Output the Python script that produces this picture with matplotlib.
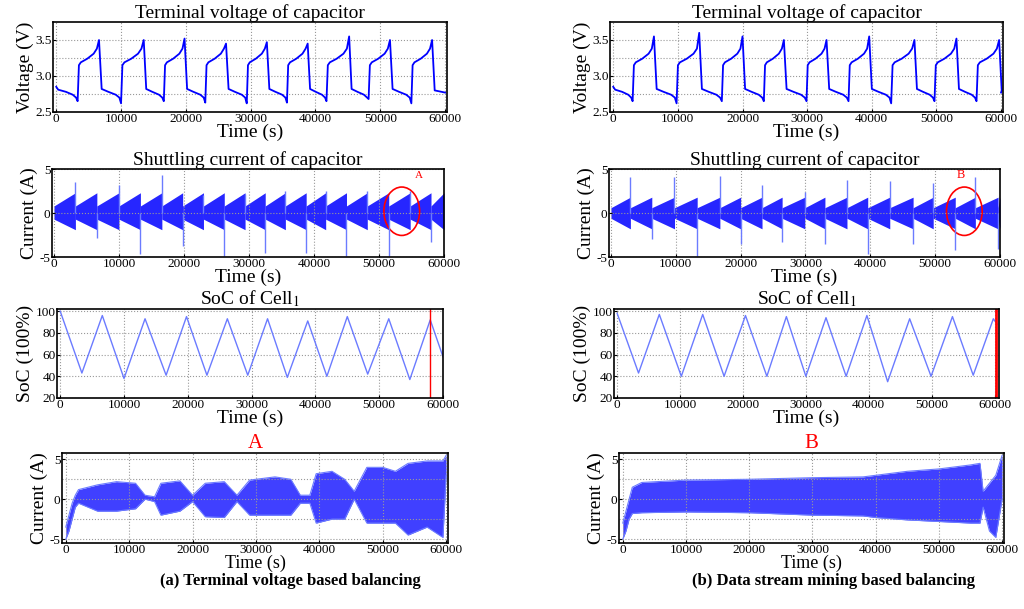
import matplotlib.pyplot as plt
import matplotlib.patches as mpatches

plt.rcParams['font.family'] = 'Liberation Serif'
plt.rcParams['mathtext.fontset'] = 'stix'

# ---- data ----
# terminal voltage: trough/peak times (s) and values (V)
va_trough_t = [3300, 10000, 16600, 23000, 29400, 35600, 41700, 48200, 54800]
va_trough_v = [2.65, 2.62, 2.65, 2.63, 2.62, 2.63, 2.65, 2.68, 2.62]
va_peak_t = [6600, 13500, 19800, 26200, 32500, 38800, 45200, 51500, 58000]
va_peak_v = [3.50, 3.50, 3.52, 3.45, 3.47, 3.45, 3.55, 3.50, 3.50]
vb_trough_t = [3000, 9800, 16800, 23300, 29900, 36400, 43000, 49700, 56200]
vb_trough_v = [2.65, 2.62, 2.65, 2.65, 2.65, 2.65, 2.62, 2.65, 2.65]
vb_peak_t = [6300, 13300, 20000, 26400, 33000, 39600, 46600, 53100, 59700]
vb_peak_v = [3.55, 3.60, 3.55, 3.50, 3.50, 3.55, 3.50, 3.52, 3.50]
v_start = 2.85
# shape of a charge half-cycle: (fraction of segment, voltage)
charge_shape = [(0.06, 3.15), (0.15, 3.19), (0.45, 3.24), (0.75, 3.31), (0.9, 3.38)]
# shape of a discharge half-cycle: (fraction of segment, voltage)
disch_shape = [(0.08, 2.82), (0.4, 2.78), (0.75, 2.74), (0.92, 2.70)]

# shuttling current: spikes at switching instants
ia_spike_t = [3300, 6600, 10000, 13300, 16600, 19800, 23000, 26200, 29400,
              32500, 35600, 38800, 41800, 45000, 48200, 51500, 54800, 58000]
ia_spike_v = [3.5, -2.8, 3.2, -4.7, 4.3, -3.8, 2.0, -4.9, 2.2,
              -4.5, 2.5, -4.5, 2.5, -4.9, 2.5, -4.9, 2.5, -3.3]
ib_spike_t = [3000, 6300, 9800, 13300, 16800, 20000, 23300, 26400, 29900,
              33000, 36400, 39600, 43000, 46600, 49700, 53100, 56200, 59700]
ib_spike_v = [4.1, -3.0, 4.1, -4.9, 4.2, -3.5, 3.2, -3.3, 2.4,
              -3.5, 3.8, -4.7, 3.6, -3.5, 3.4, -4.2, 4.1, -4.1]
# envelope (lower, upper) at start / end of each segment
ia_env_start = [0.7, 0.8]
ia_env_end = [1.9, 2.3]
ib_env_start = [0.6, 0.6]
ib_env_end = [1.8, 1.8]

# SoC of cell 1
soc_a_t = [0, 3400, 6600, 10000, 13300, 16600, 19800, 23000, 26200, 29400,
           32500, 35600, 38800, 41800, 45000, 48200, 51500, 54800, 58000, 60000]
soc_a_v = [100, 43, 96, 38, 93, 41, 95, 41, 93, 41,
           93, 39, 91, 40, 95, 42, 93, 37, 92, 58]
soc_b_t = [0, 3400, 6700, 10200, 13600, 17000, 20400, 23800, 26900, 30000,
           33200, 36400, 39700, 43000, 46500, 49900, 53300, 56600, 59800, 60400]
soc_b_v = [98, 43, 97, 40, 97, 40, 96, 40, 95, 40,
           94, 40, 96, 35, 93, 40, 95, 41, 93, 88]
soc_a_mark = 58000
soc_b_mark = 60300

# zoomed current A/B envelopes
za_t = [0, 500, 1000, 1500, 2000, 5000, 8000, 11000, 12500, 14000, 15000, 18000,
        20000, 22000, 25000, 27000, 29000, 33000, 35500, 37000, 38500, 39500,
        42000, 44000, 45500, 47500, 50000, 52000, 54000, 57000, 59500, 60000]
za_lo = [-5, -4, -2.5, -1, -0.5, -1.5, -1.5, -1.2, 0, -0.3, -2, -1.5,
         -0.3, -2.2, -2.3, -0.3, -2, -2, -2, -0.5, -0.5, -3,
         -2.5, -2.5, 0, -3, -3, -3, -4.5, -3.5, -4.8, 3]
za_hi = [-3.5, -2, -0.5, 0.5, 1.2, 1.8, 2.2, 2.0, 0.5, 0.3, 2, 2.3,
         0.5, 2, 2.2, 0.5, 2.4, 2.8, 2.5, 0.5, 0.5, 3.2,
         3.5, 2.5, 1, 4, 4, 3.5, 4.5, 4.8, 4.8, 5.5]
zb_t = [0, 500, 1000, 1500, 3000, 10000, 20000, 30000, 38000, 40000, 45000,
        50000, 55000, 56500, 57000, 58000, 59000, 60000]
zb_lo = [-5, -4, -2.5, -1.8, -1.7, -1.6, -1.7, -2, -2.1, -2.3, -2.6,
         -2.8, -3, -3, -1, -4, -4.8, 0]
zb_hi = [-3, -1.5, 0, 1.5, 2.1, 2.4, 2.5, 2.7, 2.8, 3.0, 3.5,
         3.8, 4.3, 4.5, 1, 2, 3, 5.5]

BLUE = '#0000ff'
LBLUE = '#6b7bff'


def voltage_points(tr_t, tr_v, pk_t, pk_v):
    t, v = [0, 300], [v_start, 2.81]
    prev_pk = 300
    for i in range(len(tr_t)):
        # discharge from previous peak to this trough
        for f, val in disch_shape[1:] if i == 0 else disch_shape:
            t.append(prev_pk + f * (tr_t[i] - prev_pk))
            v.append(val)
        t.append(tr_t[i])
        v.append(tr_v[i])
        for f, val in charge_shape:
            t.append(tr_t[i] + f * (pk_t[i] - tr_t[i]))
            v.append(val)
        t.append(pk_t[i])
        v.append(pk_v[i])
        prev_pk = pk_t[i] + 150
    t += [prev_pk + 250, 60000]
    v += [2.80, 2.77]
    return t, v


def style(ax, xlim, ylim, yticks, title, ylabel, minor=None, title_color='k'):
    ax.set_xlim(*xlim)
    ax.set_ylim(*ylim)
    ax.set_xticks(range(0, 60001, 10000))
    ax.set_yticks(yticks)
    ax.set_yticklabels([('%g' % y) for y in yticks])
    if minor is not None:
        ax.set_yticks(minor, minor=True)
        ax.tick_params(axis='y', which='minor', length=0)
    ax.grid(True, which='both', linestyle=':', color='#999999', linewidth=0.8)
    ax.tick_params(labelsize=9.5, direction='in', length=2, pad=1)
    ax.set_xlabel('Time (s)', fontsize=14, labelpad=-1)
    ax.set_ylabel(ylabel, fontsize=14, labelpad=1)
    ax.set_title(title, fontsize=14, pad=0, color=title_color)
    for s in ax.spines.values():
        s.set_linewidth(1.2)


def current_envelope(ax, spike_t, spike_v, env_s, env_e):
    bounds = [0] + spike_t + [60000]
    for i in range(len(bounds) - 1):
        a, b = bounds[i], bounds[i + 1]
        ax.fill_between([a, b], [-env_s[0], -env_e[0]], [env_s[1], env_e[1]],
                        color=BLUE, linewidth=0, alpha=0.85)
    ax.vlines(spike_t, 0, spike_v, color=LBLUE, linewidth=1.0)


fig = plt.figure(figsize=(10.24, 6.09), dpi=100)
W, H = 1024.0, 609.0


def axes_px(x0, y0, x1, y1):
    return fig.add_axes([x0 / W, 1 - y1 / H, (x1 - x0) / W, (y1 - y0) / H])


panels = [
    (va_trough_t, va_trough_v, va_peak_t, va_peak_v, ia_spike_t, ia_spike_v,
     ia_env_start, ia_env_end, soc_a_t, soc_a_v, soc_a_mark, za_t, za_lo, za_hi,
     'A', '(a) Terminal voltage based balancing'),
    (vb_trough_t, vb_trough_v, vb_peak_t, vb_peak_v, ib_spike_t, ib_spike_v,
     ib_env_start, ib_env_end, soc_b_t, soc_b_v, soc_b_mark, zb_t, zb_lo, zb_hi,
     'B', '(b) Data stream mining based balancing'),
]

for col, (vt, vv, pt, pv, st, sv, ie_s, ie_e, soc_t, soc_v, mark,
          zt, zlo, zhi, lab, cap) in enumerate(panels):
    L = [53, 610][col]
    R = [447, 1003][col]

    ax1 = axes_px(L, 22, R, 112)
    t, v = voltage_points(vt, vv, pt, pv)
    ax1.plot(t, v, color=BLUE, linewidth=1.3)
    style(ax1, (-500, 60300), (2.5, 3.75), [2.5, 3.0, 3.5],
          'Terminal voltage of capacitor', 'Voltage (V)', minor=[2.75, 3.25])
    ax1.set_yticklabels(['2.5', '3.0', '3.5'])

    ax2 = axes_px(L - 1, 169, R - 3, 257)
    current_envelope(ax2, st, sv, ie_s, ie_e)
    style(ax2, (-300, 60000), (-5, 5), [-5, 0, 5],
          'Shuttling current of capacitor', 'Current (A)')
    cx = [53500, 54500][col]
    ax2.add_patch(mpatches.Ellipse((cx, 0.2), 5500, 5.5, fill=False,
                                   edgecolor='red', linewidth=1.2))
    if col == 0:
        ax2.text(56200, 4.0, lab, color='red', fontsize=8, ha='center')
    else:
        ax2.text(54000, 4.0, lab, color='red', fontsize=9, ha='center')

    ax3 = axes_px(L + 4, 309, R - 4, 398)
    ax3.plot(soc_t, soc_v, color=LBLUE, linewidth=1.0)
    ax3.axvline(mark, color='red', linewidth=[1.0, 2.0][col])
    style(ax3, (-500, [60000, 60700][col]), (20, 102), [20, 40, 60, 80, 100],
          'SoC of Cell$_1$', 'SoC (100%)')

    ax4 = axes_px(L + 9, 453, R + 1, 543)
    ax4.fill_between(zt, zlo, zhi, color=BLUE, alpha=0.75, linewidth=0)
    ax4.plot(zt, zlo, color=LBLUE, linewidth=0.8)
    ax4.plot(zt, zhi, color=LBLUE, linewidth=0.8)
    style(ax4, (-600, 60300), (-5.5, 5.8), [-5, 0, 5], lab, 'Current (A)',
          minor=[-2.5, 2.5], title_color='red')
    ax4.title.set_fontsize(15)
    ax4.xaxis.label.set_fontsize(13)

    fig.text([290, 833][col] / W, 1 - 581 / H, cap, fontsize=12,
             fontweight='bold', ha='center', va='center')

fig.savefig('out.png', dpi=100)
